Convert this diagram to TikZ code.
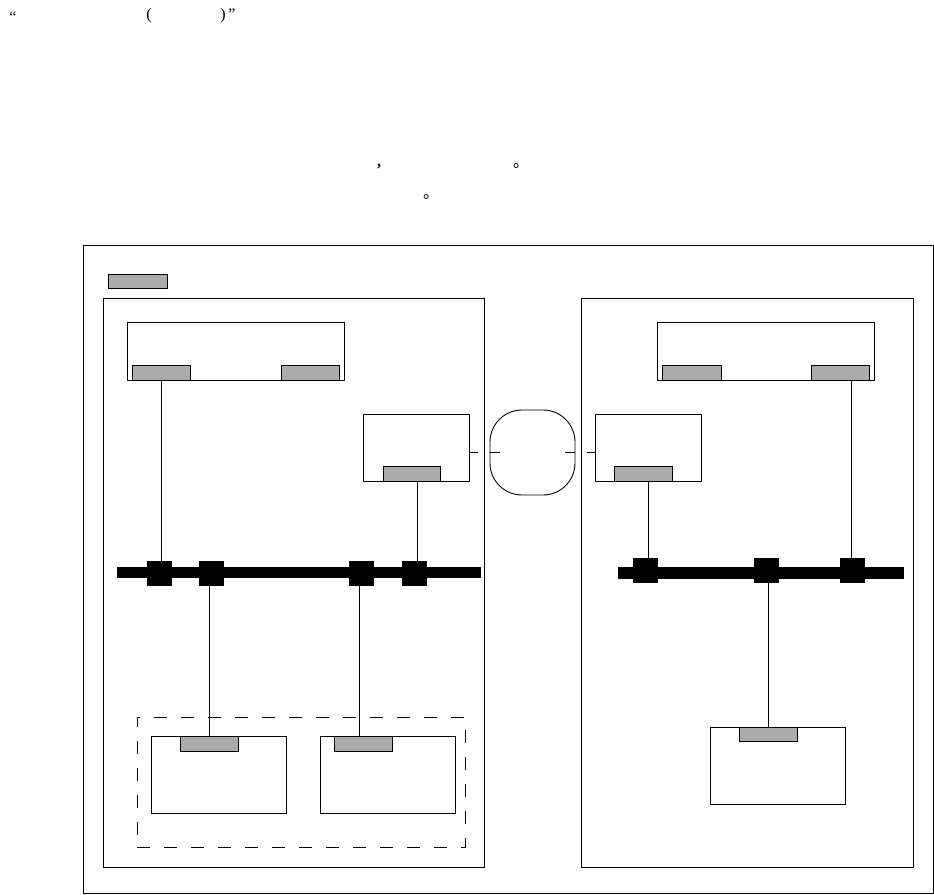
\documentclass[tikz,border=0pt]{standalone}
\usepackage{fontspec}
\setmainfont{Liberation Serif}
\newfontfamily\cjkfont{Noto Sans CJK SC}
\usepackage{xcolor}
\definecolor{portgray}{RGB}{171,171,171}

\tikzset{
  frame/.style={draw, line width=0.9pt, inner sep=0pt, outer sep=0pt},
  box/.style={frame, fill=white},
  port/.style={frame, fill=portgray, minimum width=58pt, minimum height=15pt},
  jack/.style={fill=black, inner sep=0pt, outer sep=0pt, minimum size=25pt},
  busbar/.style={fill=black, inner sep=0pt, outer sep=0pt, minimum height=11pt},
  link/.style={line width=0.9pt},
  mark text/.style={inner sep=0pt, font=\fontsize{16}{18}\selectfont},
}

\begin{document}
\begin{tikzpicture}[x=1pt,y=-1pt]
\useasboundingbox (0,0) rectangle (934,894);
% punctuation left of the lost text
\node[mark text] (q1) at (13,17) {“};
\node[mark text] (pl) at (149,16) {(};
\node[mark text] (pr) at (228,16) {)\,”};
\node[mark text] (c1) at (379,167) {\textbf{,}};
\node[mark text] (s1) at (521,166) {\cjkfont 。};
\node[mark text] (s2) at (431,197) {\cjkfont 。};

% frames
\node[frame, minimum width=850pt, minimum height=648pt] (outer) at (508,569) {};
\node[port, minimum width=59pt, minimum height=14pt] (legend) at (137.5,281) {};
\node[frame, minimum width=381pt, minimum height=569pt] (lpanel) at (293.5,582.5) {};
\node[frame, minimum width=332pt, minimum height=569pt] (rpanel) at (747,582.5) {};

% left side
\node[box, minimum width=217pt, minimum height=58pt] (ltop) at (235.5,351) {};
\node[port] (ltopa) at (161,372.5) {};
\node[port] (ltopb) at (310.5,372.5) {};
\node[box, minimum width=106pt, minimum height=67pt] (lgate) at (416,447.5) {};
\node[port, minimum width=57pt] (lgatep) at (411.5,473.5) {};
\node[busbar, minimum width=364pt] (lbus) at (299,572.5) {};
\node[jack] (lj1) at (159,573.5) {};
\node[jack] (lj2) at (211.5,573.5) {};
\node[jack] (lj3) at (361.5,573.5) {};
\node[jack] (lj4) at (414.5,573.5) {};
\node[frame, dash pattern=on 13pt off 14pt, minimum width=328pt, minimum height=130pt] (group) at (301,782) {};
\node[box, minimum width=135pt, minimum height=77pt] (lsta) at (218.5,774.5) {};
\node[port] (lstap) at (209,743.5) {};
\node[box, minimum width=135pt, minimum height=77pt] (lstb) at (387.5,774.5) {};
\node[port] (lstbp) at (363,743.5) {};

% middle
\node[frame, rounded corners=32pt, minimum width=85pt, minimum height=85pt] (cloud) at (532.5,452.5) {};
\coordinate (lstub) at (478,452);
\coordinate (cin1) at (500,452);
\coordinate (cin2) at (565,452);
\coordinate (rstub) at (587,452);

% right side
\node[box, minimum width=217pt, minimum height=58pt] (rtop) at (765.5,351) {};
\node[port, minimum width=59pt] (rtopa) at (691.5,372.5) {};
\node[port] (rtopb) at (840,372.5) {};
\node[box, minimum width=106pt, minimum height=67pt] (rgate) at (648,447.5) {};
\node[port] (rgatep) at (643,473.5) {};
\node[busbar, minimum width=286pt, minimum height=12pt] (rbus) at (761,573) {};
\node[jack] (rj1) at (645.5,570.5) {};
\node[jack] (rj2) at (766.5,570.5) {};
\node[jack] (rj3) at (852.5,570.5) {};
\node[box, minimum width=135pt, minimum height=77pt] (rsta) at (777.5,765.5) {};
\node[port, minimum height=14pt] (rstap) at (768,734) {};

% links
\draw[link] (ltopa.south) -- (ltopa.south |- lj1.north);
\draw[link] (lstap.north) -- (lstap.north |- lj2.south);
\draw[link] ([xshift=-2.5pt]lj3.south) -- ([xshift=-2.5pt]lj3.south |- lstbp.north);
\draw[link] ([xshift=2.5pt]lj4.north) -- ([xshift=2.5pt]lj4.north |- lgatep.south);
\draw[link] (lgate.east |- lstub) -- (lstub);
\draw[link] (cloud.west |- cin1) -- (cin1);
\draw[link] (cloud.east |- cin2) -- (cin2);
\draw[link] (rstub) -- (rgate.west |- rstub);
\draw[link] (rgatep.south -| rj1) ++(2.5,0) -- ([xshift=2.5pt]rj1.north);
\draw[link] ([xshift=-1.5pt]rj3.north) -- ([xshift=-1.5pt]rj3.north |- rtopb.south);
\draw[link] ([xshift=1.5pt]rj2.south) -- ([xshift=1.5pt]rj2.south |- rstap.north);
\end{tikzpicture}
\end{document}
